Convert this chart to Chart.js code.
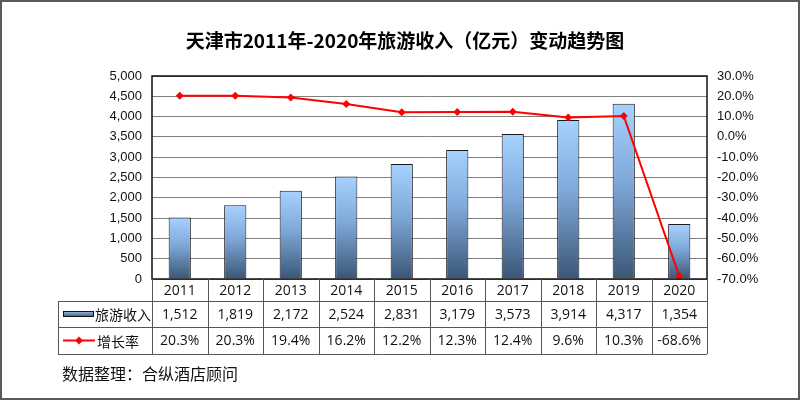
<!DOCTYPE html>
<html>
<head>
<meta charset="utf-8">
<script src="https://cdn.jsdelivr.net/npm/chart.js@4/dist/chart.umd.min.js"></script>
<style>
html,body{margin:0;padding:0;background:#fff;}
canvas{display:block;}
</style>
</head>
<body>
<canvas id="c" width="800" height="400"></canvas>
<script>
const titleText = '天津市2011年-2020年旅游收入（亿元）变动趋势图';
const sourceText = '数据整理：合纵酒店顾问';
const years = ['2011','2012','2013','2014','2015','2016','2017','2018','2019','2020'];
const income = [1512, 1819, 2172, 2524, 2831, 3179, 3573, 3914, 4317, 1354];
const growth = [20.3, 20.3, 19.4, 16.2, 12.2, 12.3, 12.4, 9.6, 10.3, -68.6];
const incomeLabel = '旅游收入';
const growthLabel = '增长率';

const fmtInt = v => Number(v).toLocaleString('en-US');
const fmtPct = v => Number(v).toFixed(1) + '%';

function barGradient(ctx) {
  const chart = ctx.chart;
  const area = chart.chartArea;
  if (!area || ctx.type !== 'data') return '#7fa6d6';
  const ys = chart.scales.y;
  const top = ys.getPixelForValue(ctx.raw);
  const bot = ys.getPixelForValue(0);
  const g = chart.ctx.createLinearGradient(0, top, 0, bot);
  g.addColorStop(0, '#a6d2ff');
  g.addColorStop(0.45, '#7ea8d8');
  g.addColorStop(1, '#3b5676');
  return g;
}

const tablePlugin = {
  id: 'tablePlugin',
  afterDraw(chart) {
    const c = chart.ctx;
    const a = chart.chartArea;
    const xs = chart.scales.x;
    const n = years.length;
    const step = xs.getPixelForValue(1) - xs.getPixelForValue(0);
    const r0 = a.bottom, r1 = 301, r2 = 327, r3 = 354;
    const tl = 58;
    c.save();
    // plot border
    c.strokeStyle = '#111';
    c.lineWidth = 1.5;
    c.strokeRect(a.left, a.top, a.right - a.left, a.bottom - a.top);
    // table lines
    c.strokeStyle = '#555';
    c.lineWidth = 1;
    c.beginPath();
    [r1, r2, r3].forEach(y => { c.moveTo(tl, y + 0.5); c.lineTo(a.right, y + 0.5); });
    c.moveTo(tl + 0.5, r1); c.lineTo(tl + 0.5, r3);
    for (let i = 0; i <= n; i++) {
      const x = Math.round(xs.getPixelForValue(0) - step / 2 + i * step) + 0.5;
      c.moveTo(x, r0); c.lineTo(x, r3);
    }
    c.stroke();
    // cell texts
    c.fillStyle = '#111';
    c.textAlign = 'center';
    c.textBaseline = 'middle';
    c.font = '14px "Open Sans", "Noto Sans", sans-serif';
    for (let i = 0; i < n; i++) {
      const x = xs.getPixelForValue(i);
      c.fillText(years[i], x, (r0 + r1) / 2 + 1);
      c.fillText(fmtInt(income[i]), x, (r1 + r2) / 2 + 1);
      c.fillText(fmtPct(growth[i]), x, (r2 + r3) / 2 + 1);
    }
    // legend keys
    const ly1 = (r1 + r2) / 2, ly2 = (r2 + r3) / 2;
    const lg = c.createLinearGradient(0, ly1 - 3, 0, ly1 + 3);
    lg.addColorStop(0, '#9cc6f2'); lg.addColorStop(1, '#3b5676');
    c.fillStyle = lg;
    c.fillRect(63, ly1 - 3, 31, 6);
    c.strokeStyle = '#111';
    c.strokeRect(63.5, ly1 - 2.5, 30, 5);
    c.strokeStyle = '#ff0000';
    c.lineWidth = 2;
    c.beginPath(); c.moveTo(63, ly2); c.lineTo(95, ly2); c.stroke();
    c.fillStyle = '#ff0000';
    c.beginPath();
    c.moveTo(79, ly2 - 4); c.lineTo(83, ly2); c.lineTo(79, ly2 + 4); c.lineTo(75, ly2); c.closePath(); c.fill();
    c.fillStyle = '#111';
    c.textAlign = 'left';
    c.font = '14px "Noto Sans CJK SC", sans-serif';
    c.fillText(incomeLabel, 95, ly1 + 1);
    c.fillText(growthLabel, 97, ly2 + 1);
    // title
    c.textAlign = 'center';
    c.font = 'bold 19px "Noto Sans CJK SC", sans-serif';
    c.fillStyle = '#000';
    c.fillText(titleText, 405, 41);
    // source
    c.textAlign = 'left';
    c.font = '16px "Noto Sans CJK SC", sans-serif';
    c.fillStyle = '#111';
    c.fillText(sourceText, 62, 374);
    // outer frame
    c.strokeStyle = '#5a5a5a';
    c.lineWidth = 2;
    c.strokeRect(1, 1, 798, 398);
    c.restore();
  }
};

new Chart(document.getElementById('c'), {
  data: {
    labels: years,
    datasets: [
      {
        type: 'line',
        label: growthLabel,
        data: growth,
        yAxisID: 'y1',
        borderColor: '#ff0000',
        backgroundColor: '#ff0000',
        borderWidth: 2,
        pointStyle: 'rectRot',
        pointRadius: 4,
        pointBorderWidth: 0,
        tension: 0,
        order: 0
      },
      {
        type: 'bar',
        label: incomeLabel,
        data: income,
        yAxisID: 'y',
        backgroundColor: barGradient,
        borderColor: '#1a1a1a',
        borderWidth: 1,
        barPercentage: 0.4,
        categoryPercentage: 1,
        order: 1
      }
    ]
  },
  options: {
    responsive: false,
    animation: false,
    layout: { padding: { left: 0, right: 0, top: 76, bottom: 121 } },
    plugins: { legend: { display: false }, title: { display: false }, tooltip: { enabled: false } },
    scales: {
      x: { display: false, offset: true },
      y: {
        position: 'left',
        min: 0, max: 5000,
        ticks: { stepSize: 500, padding: 10, color: '#111', callback: v => fmtInt(v),
                 font: { family: '"Liberation Sans", Arial, sans-serif', size: 13 } },
        grid: { color: '#808080', lineWidth: 1, drawTicks: false },
        border: { display: false },
        afterFit(s) { s.width = 152; }
      },
      y1: {
        position: 'right',
        min: -70, max: 30,
        ticks: { stepSize: 10, padding: 10, color: '#111', callback: v => fmtPct(v),
                 font: { family: '"Liberation Sans", Arial, sans-serif', size: 13 } },
        grid: { display: false, drawTicks: false },
        border: { display: false },
        afterFit(s) { s.width = 93; }
      }
    }
  },
  plugins: [tablePlugin]
});
</script>
</body>
</html>
